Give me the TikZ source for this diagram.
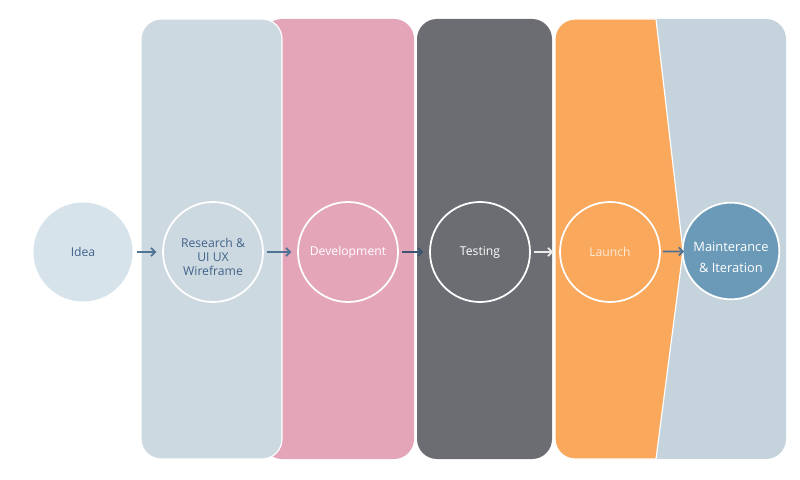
\documentclass[tikz,border=0pt]{standalone}
\usepackage{fontspec}
\setmainfont{Open Sans}
\usetikzlibrary{arrows.meta}

\definecolor{panelA}{HTML}{CDD9E1}
\definecolor{panelB}{HTML}{E4A5B9}
\definecolor{panelC}{HTML}{6C6D72}
\definecolor{panelD}{HTML}{F9A85C}
\definecolor{panelE}{HTML}{C5D3DD}
\definecolor{ideafill}{HTML}{D6E3EB}
\definecolor{maintfill}{HTML}{6A9AB8}
\definecolor{inkblue}{HTML}{41628A}
\definecolor{arrowblue}{HTML}{4E7395}
\definecolor{cream}{HTML}{FDEBD8}

\begin{document}
\begin{tikzpicture}[x=0.03cm, y=-0.03cm,
    stage/.style={circle, draw=white, line width=1.5pt, minimum size=3cm,
                  inner sep=0pt, align=center, font=\fontsize{10.4}{12}\selectfont},
    flow/.style={-{Straight Barb[length=3.5pt,width=7pt]}, line width=1.5pt,
                 shorten <=3pt, shorten >=5pt}]
        \useasboundingbox[fill=white] (0,0) rectangle (800,480);

        % columns behind the stages
        \fill[panelB, rounded corners=0.6cm] (262,19) rectangle (414,459);
        \filldraw[panelA, draw=white, line width=1pt, rounded corners=0.6cm] (141,19) rectangle (282,459);
        \fill[panelC, rounded corners=0.6cm] (417,19) rectangle (552,459);
        \fill[panelE] (650,19) -- (766,19) arc[start angle=90, end angle=0, radius=0.6cm]
                -- (786,439) arc[start angle=0, end angle=-90, radius=0.6cm] -- (650,459) -- cycle;
        \filldraw[panelD, draw=white, line width=1pt] (656,19) -- (683,251) -- (656,459) -- (575,459)
                arc[start angle=-90, end angle=-180, radius=0.6cm] -- (555,39)
                arc[start angle=180, end angle=90, radius=0.6cm] -- cycle;

        % stages
        \node[stage, draw=none, fill=ideafill, minimum size=2.97cm, text=inkblue] (idea) at (83,252) {Idea};
        \node[stage, text=inkblue] (research) at (213,252) {\rule{0pt}{17pt}Research \&\\UI UX\\Wireframe};
        \node[stage, text=white] (develop) at (348,252) {Development};
        \node[stage, text=white] (testing) at (480,252) {Testing};
        \node[stage, text=cream] (launch) at (610,252) {Launch};
        \node[stage, fill=maintfill, text=white, minimum size=2.9cm,
              font=\fontsize{11}{18}\selectfont] (maint) at (731,251) {\rule{0pt}{19pt}Mainterance\\\& Iteration};

        % connectors
        \draw[flow, arrowblue] (idea) -- (research);
        \draw[flow, arrowblue] (research) -- (develop);
        \draw[flow, arrowblue!75!black] (develop) -- (testing);
        \draw[flow, white!92!black] (testing) -- (launch);
        \draw[flow, arrowblue, shorten <=2pt, shorten >=-2pt] (launch) -- (maint);
\end{tikzpicture}
\end{document}
